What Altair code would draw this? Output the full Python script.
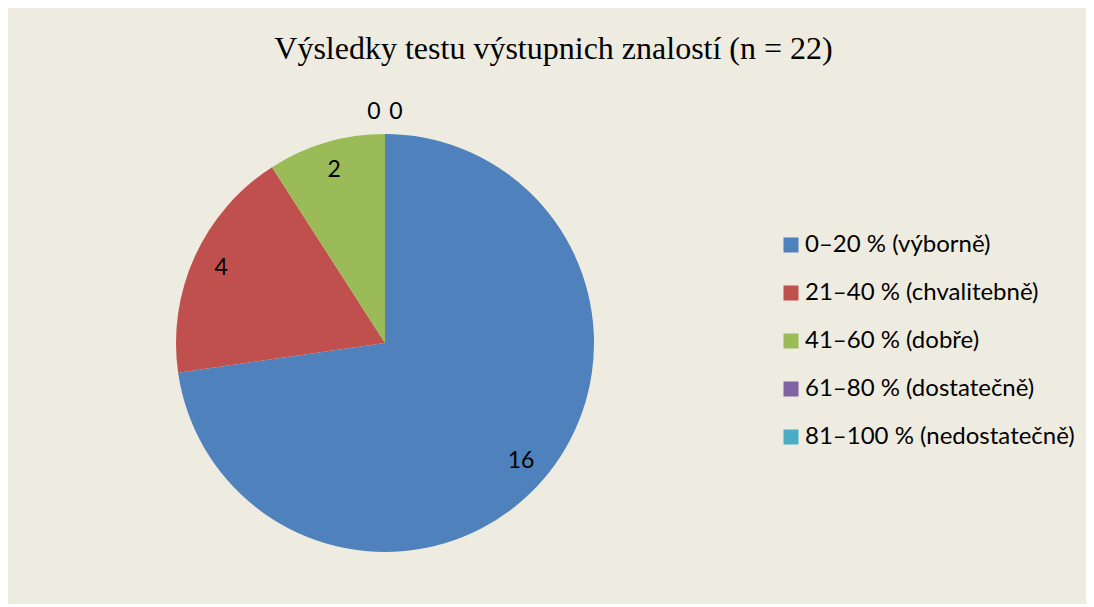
import altair as alt
import pandas as pd

categories = ["0–20 % (výborně)", "21–40 % (chvalitebně)", "41–60 % (dobře)",
              "61–80 % (dostatečně)", "81–100 % (nedostatečně)"]
values = [16, 4, 2, 0, 0]
colors = ["#4F81BD", "#C0504D", "#9BBB59", "#8064A2", "#4BACC6"]
title_text = "Výsledky testu výstupnich znalostí (n = 22)"

df = pd.DataFrame({"kat": categories, "pocet": values, "idx": list(range(len(categories)))})

base = alt.Chart(df).encode(
    theta=alt.Theta("pocet:Q", stack=True),
    order=alt.Order("idx:Q"),
)

pie = base.mark_arc(outerRadius=209).encode(
    color=alt.Color(
        "kat:N",
        sort=categories,
        scale=alt.Scale(domain=categories, range=colors),
        legend=alt.Legend(
            title=None,
            orient="none",
            legendX=771,
            legendY=125,
            symbolType="square",
            symbolSize=225,
            symbolStrokeWidth=0,
            labelFont="Lato",
            labelFontSize=24,
            labelColor="#000000",
            labelLimit=0,
            rowPadding=24,
            labelOffset=2,
            padding=0,
        ),
    )
)

lab_font = dict(font="Lato", fontSize=23, color="#000000")

labels = base.mark_text(radius=180, **lab_font).encode(text="pocet:Q").transform_filter(
    alt.datum.pocet > 0
)
zero1 = base.mark_text(radius=231, dx=-11, **lab_font).encode(text="pocet:Q").transform_filter(
    alt.datum.kat == categories[3]
)
zero2 = base.mark_text(radius=231, dx=11, **lab_font).encode(text="pocet:Q").transform_filter(
    alt.datum.kat == categories[4]
)

chart = alt.layer(pie, labels, zero1, zero2).properties(
    width=754,
    height=470,
    background="#EEECE1",
    padding={"left": 0, "top": 25, "right": 11, "bottom": 26},
    title=alt.TitleParams(
        title_text,
        font="Liberation Serif",
        fontSize=32,
        fontWeight="normal",
        color="#000000",
        anchor="middle",
        frame="bounds",
        offset=35,
        dx=12,
    ),
).configure_view(stroke=None)

chart.save("out.html", embed_options={"renderer": "svg", "actions": False})
